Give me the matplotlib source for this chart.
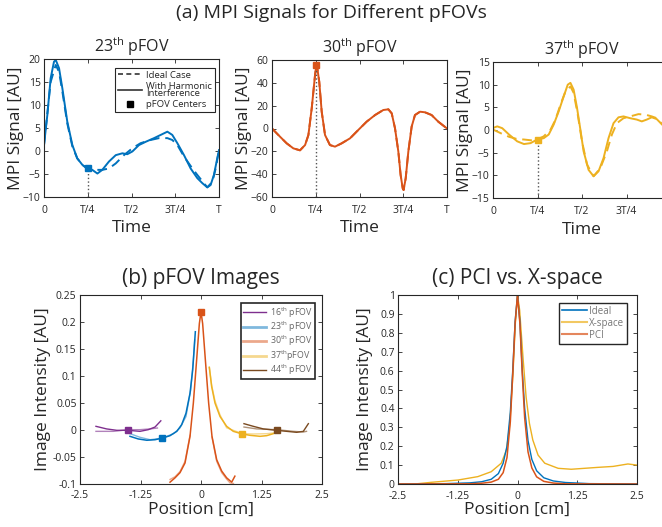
import matplotlib
matplotlib.use("Agg")
import matplotlib.pyplot as plt
from matplotlib.lines import Line2D

FONT = "Open Sans"
plt.rcParams['font.family'] = [FONT, 'DejaVu Sans']
plt.rcParams['mathtext.fontset'] = 'custom'
plt.rcParams['mathtext.rm'] = FONT
plt.rcParams['mathtext.it'] = FONT
plt.rcParams['mathtext.bf'] = FONT

BLUE = '#0072BD'
ORANGE = '#D95319'
YELLOW = '#EDB120'
PURPLE = '#7E2F8E'
BROWN = '#7A4A20'
DARK = '#262626'

# ---------------- data: (a) MPI signals (time in fractions of T) ----------------
p23_t_solid = [0, .019, .038, .057, .067, .086, .105, .133, .162, .190, .219, .248, .276, .305,
               .333, .371, .410, .448, .476, .505, .543, .581, .629, .667, .705, .733, .762,
               .800, .838, .876, .905, .933, .952, .971, .990, 1.0]
p23_v_solid = [1.3, 7.8, 15.8, 19.4, 19.8, 18, 13.6, 6.4, 1.3, -1.6, -3, -3.8, -4.1, -4.9,
               -4.1, -2.3, -0.9, -0.5, -0.7, -0.1, 1.3, 2.0, 2.8, 3.5, 4.2, 3.5, 1.7,
               -0.9, -3.8, -5.9, -7, -7.9, -7.4, -5.2, -1.6, 0.2]
p23_t_ideal = [0, .038, .067, .086, .105, .133, .162, .190, .219, .248, .276, .305, .333, .371,
               .410, .457, .505, .552, .610, .657, .705, .733, .762, .800, .848, .876, .914,
               .933, .962, .981, 1.0]
p23_v_ideal = [1.3, 15, 18.7, 17.2, 12.9, 6, 1, -1.6, -3, -3.9, -4.1, -4.1, -4.1, -3.8,
               -2.7, -0.9, 0.6, 1.7, 2.4, 2.8, 2.8, 2.4, 1.3, -1.2, -3.8, -5.2, -7,
               -7.9, -6.7, -3.8, 0.2]
p23_center = -3.6

p30_t = [0, .046, .084, .122, .160, .189, .208, .227, .246, .255, .270, .284, .303, .331, .360,
         .398, .446, .493, .541, .589, .636, .665, .684, .703, .722, .735, .747, .752, .764,
         .779, .798, .817, .846, .874, .912, .950, 1.0]
p30_v = [0, -7.2, -13, -17.4, -19.1, -14.5, -5.7, 17.7, 46.9, 57, 41, 14.7, -5.7, -14.5, -15.9,
         -13, -8.6, -1.3, 6, 11.8, 16.2, 16.8, 13.3, 0.1, -20.3, -40.7, -52.4, -53.9, -43.6,
         -20.3, 1.6, 11.8, 14.7, 14.2, 11.8, 6, 0]
p30_center = 56

p37_t_solid = [0, .024, .052, .090, .136, .174, .211, .248, .285, .313, .341, .369, .397, .420,
               .435, .453, .472, .491, .509, .537, .565, .593, .621, .649, .677, .705, .733,
               .771, .808, .836, .864, .892, .920, .950, 1.0]
p37_v_solid = [0.44, 0.8, 0.4, -1, -2.5, -3.1, -2.9, -2.1, -1.8, -1, 1.2, 4.1, 7.4, 10,
               10.4, 8.9, 4.9, 0.07, -4.7, -8.8, -10.2, -9.1, -6.2, -1.8, 1.5, 2.8, 3,
               2.6, 2.3, 1.9, 2.3, 2.8, 2.4, 1.2, -0.5]
p37_t_ideal = [0, .043, .090, .136, .174, .220, .248, .285, .323, .351, .379, .407, .435, .453,
               .476, .500, .528, .565, .603, .640, .668, .696, .733, .771, .817, .855, .892,
               .920, .950, 1.0]
p37_v_ideal = [0.1, -0.7, -1.5, -2, -2.1, -2.3, -2.1, -1.4, 0.07, 2.3, 5.6, 8.5, 9.6, 8.2,
               3.4, -2.5, -7.6, -10.2, -8.4, -4.7, -1, 1.5, 2.6, 3, 3.5, 3.4, 3,
               2.6, 1.3, -0.3]
p37_center = -2.2

time_ticks = [0, 0.25, 0.5, 0.75, 1.0]
time_labels = ['0', 'T/4', 'T/2', '3T/4', 'T']

# ---------------- data: (b) pFOV images ----------------
b16_x = [-2.17, -1.95, -1.74, -1.5, -1.26, -1.09, -0.95, -0.83]
b16_y = [0.0068, 0.002, -0.0006, -0.0006, -0.0025, 0.0006, 0.0055, 0.017]
b16_x2 = [-2.17, -1.81, -1.5, -1.26, -1.05, -0.90]
b16_y2 = [-0.0025, -0.0025, 0.0006, 0.0006, 0.002, 0.0037]

b23_x = [-1.467, -1.295, -1.12, -0.95, -0.8, -0.64, -0.5, -0.4, -0.31, -0.227, -0.172, -0.138, -0.117]
b23_y = [-0.0117, -0.0166, -0.019, -0.018, -0.015, -0.0105, -0.0025, 0.0098, 0.031, 0.068, 0.111, 0.154, 0.182]
b23_x2 = [-1.467, -1.26, -1.05, -0.8, -0.57, -0.434, -0.31, -0.213, -0.158, -0.131]
b23_y2 = [-0.0068, -0.0135, -0.018, -0.015, -0.0068, 0.0037, 0.025, 0.074, 0.13, 0.167]

b30_x = [-0.64, -0.537, -0.434, -0.33, -0.227, -0.158, -0.09, -0.034, 0, 0.034, 0.09, 0.158,
         0.227, 0.324, 0.427, 0.53, 0.634, 0.70]
b30_y = [-0.0966, -0.0886, -0.079, -0.061, -0.0117, 0.05, 0.13, 0.197, 0.219, 0.197, 0.13, 0.05,
         -0.0117, -0.055, -0.076, -0.0886, -0.0966, -0.0855]
b30_x2_left = [-0.64, -0.537, -0.434, -0.33, -0.227]
b30_y2_left = [-0.0916, -0.0866, -0.077, -0.058, -0.010]
b30_x2_right = [0.227, 0.324, 0.427, 0.53, 0.60, 0.67]
b30_y2_right = [-0.013, -0.058, -0.079, -0.091, -0.098, -0.099]

b37_x = [0.172, 0.22, 0.289, 0.393, 0.53, 0.668, 0.854, 1.01, 1.22, 1.356, 1.494]
b37_y = [0.116, 0.0806, 0.05, 0.025, 0.0068, -0.0025, -0.0074, -0.0098, -0.0117, -0.0105, -0.0068]
b37_x2 = [0.172, 0.22, 0.289, 0.393, 0.53, 0.854, 1.08, 1.356, 1.494]
b37_y2 = [0.116, 0.083, 0.054, 0.028, 0.004, -0.0068, -0.0074, -0.0068, -0.0055]

b44_x = [0.888, 1.081, 1.288, 1.564, 1.77, 1.977, 2.114, 2.218]
b44_y = [0.0117, 0.0068, 0.002, -0.0006, -0.0025, -0.0043, -0.0025, 0.0117]
b44_x2 = [0.888, 1.15, 1.564, 1.908, 2.114, 2.18]
b44_y2 = [0.0055, 0.002, 0.0006, -0.0025, -0.0037, -0.0025]

b_center_x = [-1.5, -0.8, 0, 0.854, 1.564]
b_center_y = [0, -0.015, 0.219, -0.0074, -0.0006]

# ---------------- data: (c) PCI vs X-space ----------------
c_ideal_x = [-2.5, -1.5, -1.0, -0.75, -0.55, -0.4, -0.3, -0.22, -0.15, -0.1, -0.05, 0,
             0.05, 0.1, 0.15, 0.22, 0.3, 0.4, 0.55, 0.75, 1.0, 1.5, 2.5]
c_ideal_y = [0, 0.002, 0.006, 0.012, 0.025, 0.055, 0.11, 0.2, 0.38, 0.6, 0.86, 1.0,
             0.86, 0.6, 0.4, 0.23, 0.13, 0.07, 0.033, 0.016, 0.008, 0.002, 0]
c_pci_x = [-2.5, -1.0, -0.75, -0.55, -0.4, -0.3, -0.22, -0.15, -0.1, -0.05, 0,
           0.05, 0.1, 0.15, 0.22, 0.3, 0.4, 0.55, 0.75, 1.0, 2.5]
c_pci_y = [0, 0.001, 0.004, 0.01, 0.025, 0.06, 0.14, 0.33, 0.58, 0.85, 1.0,
           0.85, 0.58, 0.35, 0.17, 0.085, 0.038, 0.014, 0.005, 0.001, 0]
c_xs_x = [-2.5, -2.15, -1.8, -1.245, -0.83, -0.55, -0.34, -0.23, -0.16, -0.094, -0.045, 0,
          0.045, 0.115, 0.18, 0.25, 0.32, 0.43, 0.57, 0.85, 1.125, 1.68, 2.0, 2.31, 2.5]
c_xs_y = [0, 0, 0.009, 0.021, 0.039, 0.065, 0.11, 0.18, 0.32, 0.585, 0.85, 1.0,
          0.92, 0.67, 0.46, 0.32, 0.233, 0.153, 0.11, 0.083, 0.078, 0.088, 0.093, 0.106, 0.1]

pos_ticks = [-2.5, -1.25, 0, 1.25, 2.5]
pos_labels = ['-2.5', '-1.25', '0', '1.25', '2.5']

# ---------------- figure ----------------
W, H = 662, 527
fig = plt.figure(figsize=(W / 100, H / 100), dpi=100)


def rect(l, r, t, b):
    return [l / W, 1 - b / H, (r - l) / W, (b - t) / H]


def style(ax, ticksize=7.5):
    for s in ax.spines.values():
        s.set_color(DARK)
        s.set_linewidth(0.8)
    ax.tick_params(direction='in', top=True, right=True, labelsize=ticksize,
                   colors=DARK, length=3, width=0.6, pad=2.5)


TICK = 7.5
LAB = 12.5

# (a) panels
ax1 = fig.add_axes(rect(44, 219, 59, 197))
ax1.plot(p23_t_ideal, p23_v_ideal, '--', color=BLUE, lw=1.4, dashes=(5, 3))
ax1.plot(p23_t_solid, p23_v_solid, '-', color=BLUE, lw=1.4)
ax1.plot([0.25, 0.25], [-10, p23_center], ':', color='#555555', lw=1)
ax1.plot([0.25], [p23_center], 's', color=BLUE, ms=4)
ax1.set_xlim(0, 1)
ax1.set_ylim(-10, 20)
ax1.set_yticks([-10, -5, 0, 5, 10, 15, 20])

ax2 = fig.add_axes(rect(272, 447, 60, 197))
ax2.plot(p30_t, p30_v, '--', color=ORANGE, lw=1.4, dashes=(5, 3))
ax2.plot(p30_t, p30_v, '-', color=ORANGE, lw=1.4)
ax2.plot([0.25, 0.25], [-60, p30_center], ':', color='#555555', lw=1)
ax2.plot([0.25], [p30_center], 's', color=ORANGE, ms=4)
ax2.set_xlim(0, 1)
ax2.set_ylim(-60, 60)
ax2.set_yticks([-60, -40, -20, 0, 20, 40, 60])

ax3 = fig.add_axes(rect(493, 671, 62, 198))
ax3.plot(p37_t_ideal, p37_v_ideal, '--', color=YELLOW, lw=1.4, dashes=(5, 3))
ax3.plot(p37_t_solid, p37_v_solid, '-', color=YELLOW, lw=1.4)
ax3.plot([0.25, 0.25], [-15, p37_center], ':', color='#555555', lw=1)
ax3.plot([0.25], [p37_center], 's', color=YELLOW, ms=4)
ax3.set_xlim(0, 1)
ax3.set_ylim(-15, 15)
ax3.set_yticks([-15, -10, -5, 0, 5, 10, 15])

for ax, title, nt in [(ax1, '23$^{\\mathrm{th}}$ pFOV', 5), (ax2, '30$^{\\mathrm{th}}$ pFOV', 5),
                      (ax3, '37$^{\\mathrm{th}}$ pFOV', 4)]:
    style(ax, TICK)
    ax.tick_params(axis='x', pad=6)
    ax.set_xticks(time_ticks[:nt])
    ax.set_xticklabels(time_labels[:nt])
    ax.set_xlabel('Time', fontsize=LAB, color=DARK, labelpad=3)
    ax.set_ylabel('MPI Signal [AU]', fontsize=LAB, color=DARK, labelpad=-1)
    ax.set_title(title, fontsize=11.5, color=DARK, pad=5)

leg_handles = [Line2D([], [], color='#333333', ls='--', lw=1.2, dashes=(3, 2)),
               Line2D([], [], color='#333333', ls='-', lw=1.2),
               Line2D([], [], color='black', ls='none', marker='s', ms=4)]
leg1 = ax1.legend(leg_handles, ['Ideal Case', 'With Harmonic\nInterference', 'pFOV Centers'],
                  loc='upper right', bbox_to_anchor=(0.977, 0.935), fontsize=6.8,
                  frameon=True, fancybox=False, framealpha=1, edgecolor=DARK,
                  handlelength=2.6, handletextpad=0.4, borderpad=0.3, labelspacing=0.2,
                  borderaxespad=0)
leg1.get_frame().set_linewidth(0.8)
for t in leg1.get_texts():
    t.set_linespacing(0.75)
    t.set_color(DARK)

fig.text(0.5, 1 - 13 / H, '(a) MPI Signals for Different pFOVs', ha='center', va='center',
         fontsize=14, color=DARK)

# (b) pFOV images
axb = fig.add_axes(rect(80, 322, 295, 484))
axb.plot(b16_x2, b16_y2, '-', color=PURPLE, lw=1, alpha=0.6)
axb.plot(b16_x, b16_y, '-', color=PURPLE, lw=1)
axb.plot(b23_x2, b23_y2, '-', color=BLUE, lw=1, alpha=0.5)
axb.plot(b23_x, b23_y, '-', color=BLUE, lw=1.1)
axb.plot(b30_x2_left, b30_y2_left, '-', color=ORANGE, lw=1, alpha=0.5)
axb.plot(b30_x2_right, b30_y2_right, '-', color=ORANGE, lw=1, alpha=0.5)
axb.plot(b30_x, b30_y, '-', color=ORANGE, lw=1.1)
axb.plot(b37_x2, b37_y2, '-', color=YELLOW, lw=1, alpha=0.5)
axb.plot(b37_x, b37_y, '-', color=YELLOW, lw=1.1)
axb.plot(b44_x2, b44_y2, '-', color=BROWN, lw=1, alpha=0.6)
axb.plot(b44_x, b44_y, '-', color=BROWN, lw=1)
for cx, cy, col in zip(b_center_x, b_center_y, [PURPLE, BLUE, ORANGE, YELLOW, BROWN]):
    axb.plot([cx], [cy], 's', color=col, ms=4.5)
axb.set_xlim(-2.5, 2.5)
axb.set_ylim(-0.1, 0.25)
axb.set_xticks(pos_ticks)
axb.set_xticklabels(pos_labels)
axb.set_yticks([-0.1, -0.05, 0, 0.05, 0.1, 0.15, 0.2, 0.25])
axb.set_yticklabels(['-0.1', '-0.05', '0', '0.05', '0.1', '0.15', '0.2', '0.25'])
style(axb, TICK)
axb.tick_params(axis='x', pad=4)
axb.set_xlabel('Position [cm]', fontsize=LAB, color=DARK, labelpad=1)
axb.set_ylabel('Image Intensity [AU]', fontsize=LAB, color=DARK, labelpad=1)
axb.set_title('(b) pFOV Images', fontsize=15, color=DARK, pad=8)
hb = [Line2D([], [], color=PURPLE, lw=1),
      Line2D([], [], color=BLUE, lw=2, alpha=0.5),
      Line2D([], [], color=ORANGE, lw=2, alpha=0.5),
      Line2D([], [], color=YELLOW, lw=2, alpha=0.5),
      Line2D([], [], color=BROWN, lw=1)]
lb = ['16$^{\\mathrm{th}}$ pFOV', '23$^{\\mathrm{th}}$ pFOV', '30$^{\\mathrm{th}}$ pFOV',
      '37$^{\\mathrm{th}}$pFOV', '44$^{\\mathrm{th}}$ pFOV']
legb = axb.legend(hb, lb, loc='upper right', bbox_to_anchor=(0.971, 0.958), fontsize=6.4,
                  frameon=True, fancybox=False, framealpha=1, edgecolor=DARK,
                  handlelength=2.6, handletextpad=0.4, borderpad=0.25, labelspacing=0.0,
                  borderaxespad=0)
legb.get_frame().set_linewidth(1.2)
for t in legb.get_texts():
    t.set_color('#666666')

# (c) PCI vs X-space
axc = fig.add_axes(rect(398, 637, 295, 484))
axc.plot(c_xs_x, c_xs_y, '-', color=YELLOW, lw=1)
axc.plot(c_ideal_x, c_ideal_y, '-', color=BLUE, lw=1)
axc.plot(c_pci_x, c_pci_y, '-', color=ORANGE, lw=1.1)
axc.set_xlim(-2.5, 2.5)
axc.set_ylim(0, 1)
axc.set_xticks(pos_ticks)
axc.set_xticklabels(pos_labels)
axc.set_yticks([0, 0.1, 0.2, 0.3, 0.4, 0.5, 0.6, 0.7, 0.8, 0.9, 1.0])
axc.set_yticklabels(['0', '0.1', '0.2', '0.3', '0.4', '0.5', '0.6', '0.7', '0.8', '0.9', '1'])
style(axc, TICK)
axc.tick_params(axis='x', pad=5)
axc.set_xlabel('Position [cm]', fontsize=LAB, color=DARK, labelpad=0)
axc.set_ylabel('Image Intensity [AU]', fontsize=LAB, color=DARK, labelpad=5)
axc.set_title('(c) PCI vs. X-space', fontsize=15, color=DARK, pad=8)
hc = [Line2D([], [], color=BLUE, lw=1.2),
      Line2D([], [], color=YELLOW, lw=1.5, alpha=0.7),
      Line2D([], [], color=ORANGE, lw=1.5, alpha=0.7)]
legc = axc.legend(hc, ['Ideal', 'X-space', 'PCI'], loc='upper right',
                  bbox_to_anchor=(0.958, 0.958), fontsize=7, frameon=True, fancybox=False,
                  framealpha=1, edgecolor=DARK, handlelength=2.6, handletextpad=0.2,
                  borderpad=0.3, labelspacing=0.1, borderaxespad=0)
legc.get_frame().set_linewidth(1.0)
for t in legc.get_texts():
    t.set_color('#777777')

fig.savefig('out.png', dpi=100)
